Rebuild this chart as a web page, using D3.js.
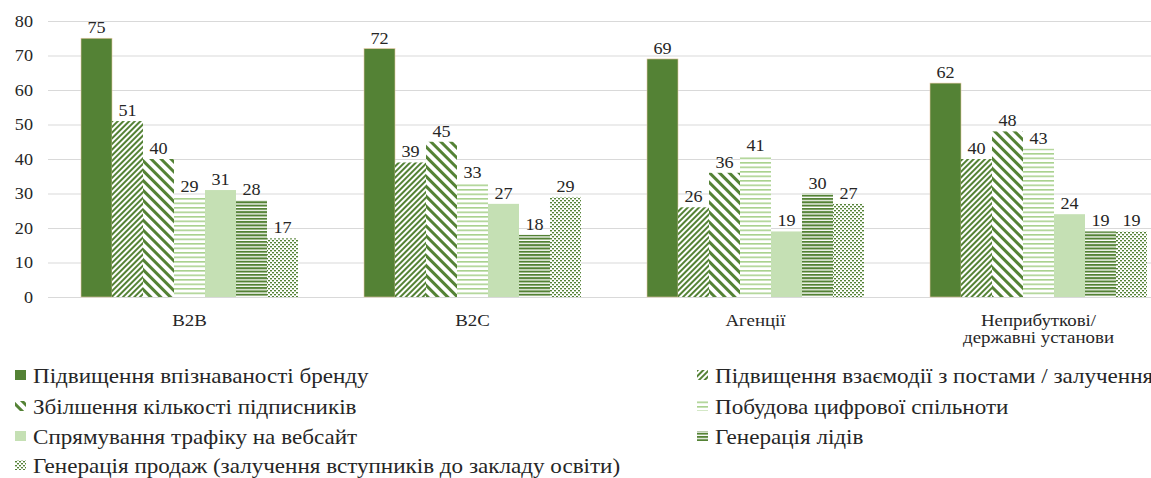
<!DOCTYPE html>
<html>
<head>
<meta charset="utf-8">
<script src="https://cdn.jsdelivr.net/npm/d3@7"></script>
<style>
  html, body { margin: 0; padding: 0; background: #fff; overflow: hidden; }
</style>
</head>
<body>
<svg id="chart" width="1151" height="478"></svg>
<script>
// ── Data ─────────────────────────────────────────────────────
const categories = ["B2B", "B2C", "Агенції", "Неприбуткові/\nдержавні установи"];
const seriesNames = [
  "Підвищення впізнаваності бренду",
  "Підвищення взаємодії з постами / залучення",
  "Збілшення кількості підписників",
  "Побудова цифрової спільноти",
  "Спрямування трафіку на вебсайт",
  "Генерація лідів",
  "Генерація продаж (залучення вступників до закладу освіти)"
];
const brand     = [75, 72, 69, 62];
const engage    = [51, 39, 26, 40];
const followers = [40, 45, 36, 48];
const community = [29, 33, 41, 43];
const traffic   = [31, 27, 19, 24];
const leads     = [28, 18, 30, 19];
const sales     = [17, 29, 27, 19];
const yTicks    = [0, 10, 20, 30, 40, 50, 60, 70, 80];

const seriesValues = [brand, engage, followers, community, traffic, leads, sales];

// ── Layout ───────────────────────────────────────────────────
const FONT  = "Liberation Serif";
const TEXT  = "#262626";
const DARK  = "#548235";
const LIGHT = "#c5e0b4";
const MID   = "#a9d18e";
const PLOT  = { left: 48, right: 1180, top: 21, bottom: 297 };
const STRETCH = 1.1;   // the source picture is a bit wider than tall

const svg  = d3.select("#chart");
const defs = svg.append("defs");

// text drawn with a slight horizontal stretch, like the source
function stretchedText(sel, x, y, size, sx) {
  return sel
    .attr("transform", (d, i) => `translate(${x(d, i)},${y(d, i)}) scale(${sx || STRETCH},1)`)
    .attr("font-family", FONT)
    .attr("font-size", size)
    .attr("fill", TEXT);
}

// ── Patterns ─────────────────────────────────────────────────
function pattern(id, w, h, transform, draw) {
  const p = defs.append("pattern").attr("id", id)
    .attr("patternUnits", "userSpaceOnUse")
    .attr("width", w).attr("height", h);
  if (transform) p.attr("patternTransform", transform);
  p.append("rect").attr("width", w).attr("height", h).attr("fill", "#fff");
  draw(p);
}
// fine upward diagonal
pattern("p-engage", 4, 4, "rotate(45)", p =>
  p.append("rect").attr("width", 2).attr("height", 4).attr("fill", DARK));
// wide downward diagonal
pattern("p-follow", 7, 7, "rotate(-45)", p =>
  p.append("rect").attr("width", 3).attr("height", 7).attr("fill", DARK));
// light horizontal
pattern("p-comm", 4, 4.5, null, p =>
  p.append("rect").attr("width", 4).attr("height", 1.6).attr("fill", MID));
// dark horizontal
pattern("p-leads", 4, 3.3, null, p =>
  p.append("rect").attr("width", 4).attr("height", 2).attr("fill", DARK));
// dotted
pattern("p-sales", 4, 4, null, p => {
  p.append("rect").attr("x", 0).attr("y", 0).attr("width", 2).attr("height", 1.4).attr("fill", DARK);
  p.append("rect").attr("x", 2).attr("y", 2).attr("width", 2).attr("height", 1.4).attr("fill", DARK);
});

const fills = [DARK, "url(#p-engage)", "url(#p-follow)", "url(#p-comm)", LIGHT, "url(#p-leads)", "url(#p-sales)"];

// ── Scales ───────────────────────────────────────────────────
const x0 = d3.scaleBand().domain(categories).range([PLOT.left, PLOT.right]).padding(0);
const x1 = d3.scaleBand().domain(d3.range(seriesNames.length))
  .range([0, x0.bandwidth()]).paddingInner(0).paddingOuter(1.065);
const y  = d3.scaleLinear().domain([0, 80]).range([PLOT.bottom, PLOT.top]);

// ── Grid + axis ──────────────────────────────────────────────
const yAxisG = svg.append("g")
  .attr("transform", `translate(${PLOT.left},0)`)
  .call(d3.axisLeft(y).tickValues(yTicks).tickSize(-(PLOT.right - PLOT.left)).tickFormat(""));
yAxisG.select(".domain").remove();
yAxisG.selectAll(".tick line").attr("stroke", "#d9d9d9").attr("stroke-width", 1);

stretchedText(
  svg.append("g").selectAll("text").data(yTicks).join("text")
    .attr("text-anchor", "end").attr("dy", "0.35em").text(d => d),
  () => PLOT.left - 15, d => y(d), 16.5);

// ── Bars ─────────────────────────────────────────────────────
const barData = categories.flatMap((c, ci) =>
  seriesValues.map((vals, si) => ({ c, si, v: vals[ci] })));

svg.append("g").selectAll("rect")
  .data(barData)
  .join("rect")
  .attr("x", d => x0(d.c) + x1(d.si))
  .attr("y", d => y(d.v))
  .attr("width", x1.bandwidth())
  .attr("height", d => y(0) - y(d.v))
  .attr("fill", d => fills[d.si])
  .attr("stroke", d => d.si === 0 ? "#e8c9a4" : "none")
  .attr("stroke-width", 0.6);

stretchedText(
  svg.append("g").selectAll("text").data(barData).join("text")
    .attr("text-anchor", "middle").text(d => d.v),
  d => x0(d.c) + x1(d.si) + x1.bandwidth() / 2, d => y(d.v) - 5, 16.5);

// ── Category labels ──────────────────────────────────────────
const catLabels = stretchedText(
  svg.append("g").selectAll("text").data(categories).join("text")
    .attr("text-anchor", "middle"),
  d => x0(d) + x0.bandwidth() / 2, () => 326, 16, 1.18);
catLabels.selectAll("tspan")
  .data(d => d.split("\n"))
  .join("tspan")
  .attr("x", 0)
  .attr("dy", (d, i) => i === 0 ? 0 : 17)
  .text(d => d);

// ── Legend ───────────────────────────────────────────────────
const legendCols = [15, 697];
const legendRows = [375, 406, 436, 465];
const legend = svg.append("g").selectAll("g")
  .data(seriesNames)
  .join("g")
  .attr("transform", (d, i) => `translate(${legendCols[i % 2]},${legendRows[Math.floor(i / 2)]})`);
legend.append("rect")
  .attr("x", 0).attr("y", -5).attr("width", 11).attr("height", 10)
  .attr("fill", (d, i) => fills[i]);
stretchedText(legend.append("text").text(d => d), () => 18, () => 8, 21);
</script>
</body>
</html>
